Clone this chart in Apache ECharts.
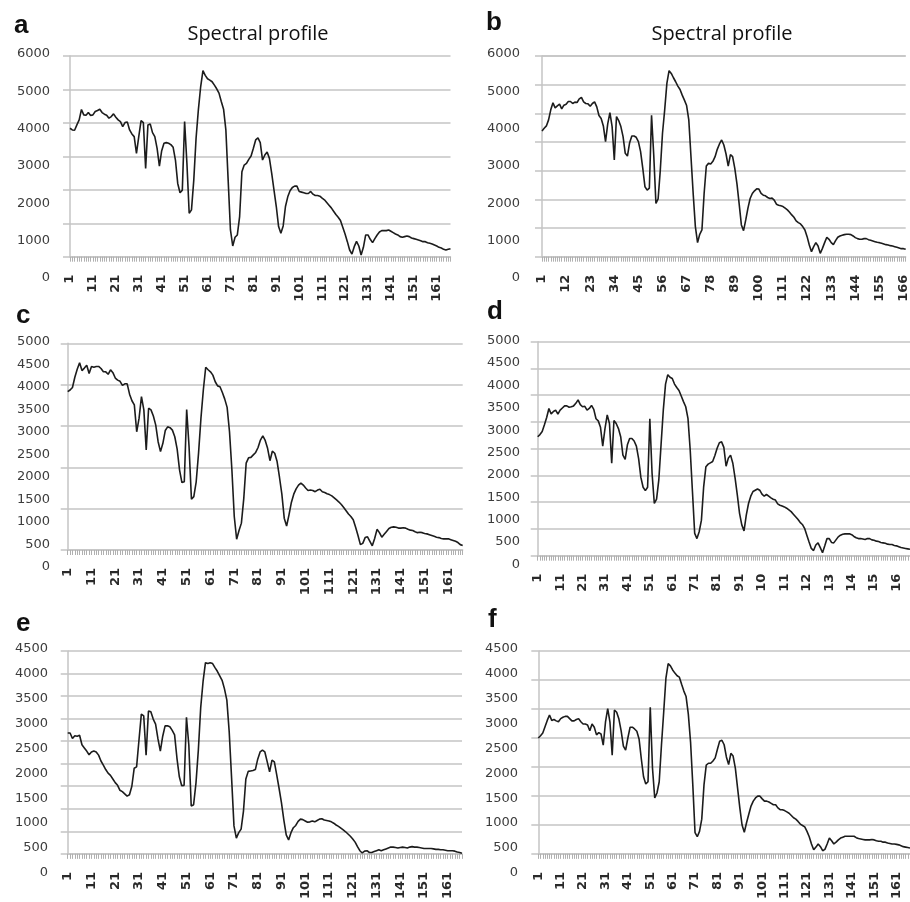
<!DOCTYPE html>
<html>
<head>
<meta charset="utf-8">
<title>Spectral profile</title>
<script src="https://cdn.jsdelivr.net/npm/echarts@6/dist/echarts.min.js"></script>
<style>
  html, body { margin: 0; background: #fff; }
  #chart { width: 910px; height: 902px; }
</style>
</head>
<body>
<div id="chart"></div>
<script>
// band numbers on the x axis
const bands = []
for (let i = 1; i <= 167; i++) bands.push(String(i))

const panelLetters = ['a', 'b', 'c', 'd', 'e', 'f']
const panelTitle = 'Spectral profile'

// y label range of each panel (the labels are spread wider than the grid lines)
const yLabelMax = [6000, 6000, 5000, 5000, 4500, 4500]
const yLabelStep = [1000, 1000, 500, 500, 500, 500]
// how many horizontal grid lines each panel has
const gridLineCount = [7, 8, 6, 9, 10, 8]
// show every n-th band number
const xLabelEvery = [10, 11, 10, 10, 10, 10]

// values read at the grid line scale (top line = yLabelMax, bottom line = 0)
const profileA = [3840, 3790, 3780, 3940, 4090, 4400, 4240, 4230, 4310, 4220,
  4240, 4340, 4370, 4410, 4310, 4260, 4230, 4140, 4190, 4270,
  4170, 4090, 4040, 3890, 4010, 4030, 3790, 3670, 3590, 3090,
  3590, 4070, 4010, 2640, 3940, 3970, 3710, 3590, 3240, 2710,
  3170, 3390, 3410, 3390, 3350, 3270, 2890, 2190, 1910, 1990,
  4040, 2800, 1300, 1400, 2290, 3540, 4390, 5080, 5560, 5420,
  5320, 5280, 5230, 5130, 5020, 4890, 4640, 4410, 3790, 2290,
  800, 320, 580, 650, 1200, 2540, 2740, 2790, 2910, 3010,
  3240, 3490, 3550, 3410, 2890, 3040, 3130, 2940, 2490, 1990,
  1500, 900, 700, 920, 1500, 1790, 1970, 2070, 2110, 2110,
  1950, 1930, 1910, 1890, 1890, 1950, 1870, 1830, 1830, 1810,
  1750, 1700, 1620, 1540, 1460, 1360, 1260, 1180, 1080, 880,
  680, 450, 200, 80, 300, 460, 320, 50, 280, 650,
  650, 520, 420, 540, 650, 740, 780, 780, 780, 800,
  760, 720, 680, 650, 600, 580, 600, 620, 600, 560,
  540, 520, 500, 480, 450, 450, 420, 400, 380, 350,
  320, 280, 260, 220, 200, 220, 240]

const profileB = [3760, 3840, 3910, 4090, 4390, 4600, 4450, 4510, 4560, 4420,
  4530, 4560, 4640, 4640, 4580, 4620, 4610, 4720, 4760, 4630,
  4580, 4570, 4500, 4580, 4630, 4480, 4220, 4130, 3910, 3440,
  3970, 4310, 3890, 2890, 4190, 4070, 3890, 3590, 3090, 3010,
  3410, 3610, 3610, 3570, 3440, 3140, 2640, 2090, 1990, 2050,
  4230, 3040, 1590, 1730, 2590, 3690, 4390, 5180, 5560, 5480,
  5350, 5230, 5100, 5000, 4830, 4680, 4520, 4090, 2990, 1890,
  900, 420, 670, 800, 1890, 2710, 2790, 2770, 2850, 2990,
  3210, 3370, 3490, 3340, 3070, 2710, 3050, 2990, 2640, 2170,
  1570, 950, 780, 1100, 1450, 1740, 1890, 1970, 2030, 2020,
  1890, 1840, 1820, 1770, 1740, 1750, 1690, 1570, 1540, 1520,
  1500, 1450, 1400, 1330, 1250, 1180, 1070, 1020, 980, 900,
  800, 600, 350, 150, 300, 420, 320, 100, 250, 420,
  580, 520, 420, 360, 480, 580, 620, 640, 660, 670,
  670, 660, 620, 570, 540, 520, 520, 540, 540, 510,
  490, 470, 450, 430, 420, 400, 380, 360, 350, 330,
  320, 300, 280, 260, 240, 240, 220]

const profileC = [3830, 3870, 3930, 4180, 4370, 4530, 4340, 4400, 4470, 4270,
  4440, 4420, 4440, 4440, 4390, 4310, 4310, 4250, 4360, 4290,
  4160, 4110, 4080, 3980, 4020, 4020, 3770, 3610, 3510, 2860,
  3190, 3710, 3390, 2420, 3430, 3390, 3240, 3020, 2620, 2380,
  2580, 2890, 2980, 2960, 2900, 2740, 2440, 1940, 1630, 1650,
  3400, 2500, 1230, 1290, 1650, 2350, 3190, 3870, 4420, 4360,
  4310, 4230, 4070, 3970, 3950, 3810, 3650, 3450, 2860, 1940,
  810, 260, 470, 650, 1250, 2100, 2230, 2240, 2300, 2360,
  2480, 2660, 2760, 2650, 2460, 2160, 2390, 2340, 2140, 1760,
  1350, 770, 580, 850, 1150, 1350, 1480, 1570, 1620, 1570,
  1500, 1440, 1450, 1440, 1410, 1450, 1470, 1410, 1390, 1360,
  1340, 1310, 1260, 1210, 1160, 1100, 1030, 950, 870, 810,
  730, 550, 350, 130, 160, 300, 320, 210, 100, 280,
  500, 420, 310, 380, 450, 520, 550, 560, 550, 530,
  530, 540, 530, 500, 480, 470, 440, 420, 430, 420,
  400, 390, 370, 350, 330, 310, 300, 280, 270, 270,
  270, 250, 230, 210, 180, 130, 110]

const profileD = [2780, 2830, 2900, 3060, 3230, 3440, 3310, 3370, 3400, 3310,
  3400, 3450, 3500, 3500, 3470, 3480, 3500, 3560, 3640, 3530,
  3480, 3490, 3400, 3440, 3510, 3420, 3200, 3150, 3000, 2560,
  2970, 3290, 3090, 2160, 3160, 3090, 2970, 2780, 2350, 2250,
  2590, 2740, 2740, 2680, 2560, 2270, 1830, 1600, 1520, 1600,
  3200, 1920, 1220, 1320, 1770, 2590, 3400, 4010, 4230, 4170,
  4140, 4010, 3930, 3860, 3730, 3600, 3480, 3210, 2470, 1500,
  520, 400, 560, 830, 1610, 2080, 2140, 2170, 2200, 2340,
  2510, 2640, 2660, 2530, 2090, 2280, 2350, 2160, 1820, 1420,
  990, 720, 580, 950, 1220, 1390, 1500, 1530, 1560, 1530,
  1440, 1390, 1430, 1390, 1350, 1320, 1300, 1210, 1180, 1160,
  1140, 1110, 1070, 1030, 970, 910, 850, 780, 730, 640,
  480, 320, 170, 120, 250, 300, 190, 70, 230, 400,
  400, 310, 300, 370, 440, 480, 500, 510, 510, 510,
  490, 450, 420, 400, 400, 390, 380, 400, 400, 370,
  360, 340, 330, 310, 300, 290, 270, 260, 260, 240,
  230, 210, 190, 180, 170, 160, 150]

const profileE = [2680, 2680, 2560, 2620, 2610, 2630, 2420, 2350, 2280, 2200,
  2260, 2280, 2260, 2190, 2060, 1970, 1870, 1790, 1740, 1660,
  1580, 1520, 1410, 1380, 1330, 1280, 1310, 1500, 1900, 1930,
  2520, 3100, 3060, 2190, 3170, 3150, 2990, 2880, 2550, 2280,
  2610, 2840, 2840, 2820, 2740, 2640, 2120, 1710, 1510, 1520,
  3030, 2410, 1060, 1090, 1570, 2300, 3250, 3830, 4240, 4220,
  4240, 4220, 4130, 4050, 3950, 3850, 3660, 3410, 2700, 1680,
  620, 350, 470, 550, 950, 1660, 1830, 1840, 1850, 1870,
  2100, 2260, 2300, 2260, 2040, 1820, 2080, 2040, 1750, 1450,
  1130, 750, 420, 310, 470, 580, 630, 720, 770, 760,
  730, 700, 710, 730, 710, 740, 770, 780, 750, 740,
  730, 710, 680, 640, 610, 570, 530, 490, 440, 390,
  330, 260, 160, 70, 20, 60, 70, 30, 30, 50,
  70, 90, 70, 90, 110, 130, 150, 150, 140, 130,
  140, 150, 140, 130, 150, 160, 150, 150, 140, 130,
  120, 120, 120, 120, 110, 100, 100, 90, 90, 80,
  70, 70, 70, 60, 40, 30, 15]

const profileF = [2570, 2620, 2680, 2820, 2960, 3080, 2960, 2980, 2950, 2930,
  3000, 3030, 3050, 3050, 3000, 2950, 2950, 2980, 3000, 2930,
  2880, 2880, 2860, 2730, 2880, 2810, 2640, 2690, 2660, 2410,
  2920, 3220, 2920, 2190, 3190, 3140, 2990, 2730, 2390, 2300,
  2570, 2810, 2810, 2770, 2720, 2550, 2110, 1710, 1550, 1600,
  3250, 1900, 1240, 1350, 1600, 2410, 3140, 3900, 4220, 4170,
  4080, 4010, 3950, 3920, 3760, 3610, 3490, 3100, 2480, 1530,
  470, 380, 500, 770, 1530, 1970, 2010, 2010, 2060, 2130,
  2320, 2500, 2520, 2420, 2150, 1980, 2230, 2170, 1900, 1460,
  1020, 640, 480, 690, 880, 1060, 1170, 1240, 1280, 1280,
  1220, 1170, 1170, 1150, 1120, 1090, 1090, 1020, 980, 980,
  960, 930, 900, 850, 800, 770, 720, 660, 630, 600,
  500, 380, 220, 90, 150, 220, 160, 70, 100, 220,
  350, 290, 220, 260, 310, 350, 370, 390, 390, 390,
  390, 390, 360, 340, 330, 320, 310, 310, 310, 320,
  310, 290, 280, 280, 260, 260, 240, 230, 220, 220,
  210, 200, 180, 160, 150, 140, 130]

const profiles = [profileA, profileB, profileC, profileD, profileE, profileF]

// pixel layout of the six panels
// plot: [left, top, width, height], lab: [right edge + 2, top label y, bottom label y]
const layout = [
  { plot: [70, 56, 380.5, 200.7], lab: [52, 54, 278], letter: [9, 8], title: 253 },
  { plot: [542, 56, 366.3, 200.7], lab: [522, 54, 278], letter: [481, 5], title: 717 },
  { plot: [67.7, 343.3, 395, 206.7], lab: [52, 342, 566.7], letter: [11, 298] },
  { plot: [537.7, 341.7, 380.7, 214], lab: [522, 340.7, 564.3], letter: [482, 294] },
  { plot: [67.7, 651, 394.3, 205.7], lab: [50, 649, 872.7], letter: [11, 606] },
  { plot: [538.3, 651, 379, 205.7], lab: [520, 649, 872.7], letter: [483, 602] }
]

const gridColor = '#c4c4c4'

const grid = []
const xAxis = []
const yAxis = []
const series = []
const title = []

layout.forEach((p, k) => {
  grid.push({ left: p.plot[0], top: p.plot[1], width: p.plot[2], height: p.plot[3] })
  const xLabel = {
    interval: xLabelEvery[k] - 1,
    rotate: 90,
    margin: 18,
    fontSize: 13,
    fontWeight: 'bold',
    color: '#2a2a2a',
    fontFamily: 'DejaVu Sans'
  }
  // panel d cuts the 3-digit band numbers to two digits
  if (k === 3) xLabel.formatter = v => v.slice(0, 2)
  xAxis.push({
    gridIndex: k,
    type: 'category',
    boundaryGap: false,
    data: bands,
    axisLine: { lineStyle: { color: gridColor, width: 1.5 } },
    axisTick: { show: true, interval: 0, length: 5, lineStyle: { color: '#b0b0b0' } },
    axisLabel: xLabel,
    splitLine: { show: false }
  })
  yAxis.push({
    gridIndex: k,
    type: 'value',
    min: 0,
    max: yLabelMax[k],
    interval: yLabelMax[k] / (gridLineCount[k] - 1),
    axisLabel: { show: false },
    axisLine: { show: true, lineStyle: { color: gridColor, width: 1.5 } },
    axisTick: { show: true, length: 7, lineStyle: { color: gridColor, width: 1.5 } },
    splitLine: { show: true, lineStyle: { color: gridColor, width: 1.5 } }
  })
  series.push({
    type: 'line',
    xAxisIndex: k,
    yAxisIndex: k,
    data: profiles[k],
    symbol: 'none',
    silent: true,
    lineStyle: { color: '#1c1c1c', width: 1.6 }
  })
  title.push({
    text: panelLetters[k],
    left: p.letter[0],
    top: p.letter[1],
    textStyle: { fontSize: 26, fontWeight: 'bold', color: '#111', fontFamily: 'Liberation Sans' }
  })
  if (p.title) {
    title.push({
      text: panelTitle,
      left: p.title,
      top: 19,
      textAlign: 'center',
      textStyle: { fontSize: 20, fontWeight: 'normal', color: '#111', fontFamily: 'Open Sans' }
    })
  }
})

// separate axes only for the y labels
layout.forEach((p, k) => {
  const g = grid.length
  grid.push({ left: p.lab[0], top: p.lab[1], width: 10, height: p.lab[2] - p.lab[1] })
  xAxis.push({ gridIndex: g, type: 'value', show: false })
  yAxis.push({
    gridIndex: g,
    type: 'value',
    min: 0,
    max: yLabelMax[k],
    interval: yLabelStep[k],
    axisLine: { show: false },
    axisTick: { show: false },
    splitLine: { show: false },
    axisLabel: {
      margin: 2,
      fontSize: 13,
      color: '#3c3c3c',
      fontFamily: 'DejaVu Sans',
      formatter: v => String(v)
    }
  })
})

const chart = echarts.init(document.getElementById('chart'))
chart.setOption({
  animation: false,
  backgroundColor: '#fff',
  title: title,
  grid: grid,
  xAxis: xAxis,
  yAxis: yAxis,
  series: series
})
</script>
</body>
</html>
